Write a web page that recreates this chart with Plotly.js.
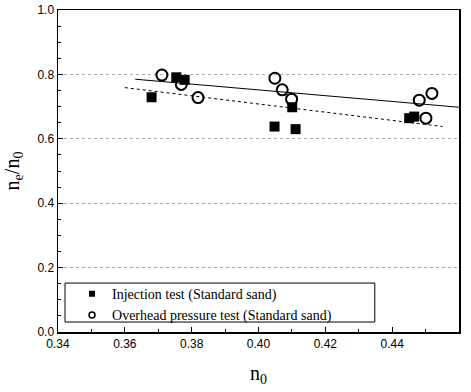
<!DOCTYPE html>
<html><head><meta charset="utf-8">
<script src="https://cdn.plot.ly/plotly-3.0.1.min.js"></script>
<style>body{margin:0;background:#fff}#c{width:471px;height:392px}</style>
</head><body><div id="c"></div>
<script>
const injX = [0.368, 0.3754, 0.3779, 0.4048, 0.4101, 0.4111, 0.4451, 0.4466];
const injY = [0.729, 0.791, 0.783, 0.638, 0.698, 0.630, 0.664, 0.669];
const ovhX = [0.3711, 0.3769, 0.3819, 0.4049, 0.4071, 0.4099, 0.4481, 0.4519, 0.4501];
const ovhY = [0.798, 0.769, 0.728, 0.788, 0.752, 0.723, 0.720, 0.741, 0.664];
const fitSolidX = [0.3631, 0.46];
const fitSolidY = [0.785, 0.698];
const fitDashX = [0.360, 0.4551];
const fitDashY = [0.759, 0.638];
const xTicks = [0.34, 0.36, 0.38, 0.40, 0.42, 0.44, 0.46];
const xTickText = ["0.34", "0.36", "0.38", "0.40", "0.42", "0.44", "0.46"];
const yTicks = [0.0, 0.2, 0.4, 0.6, 0.8, 1.0];
const yTickText = ["0.0", "0.2", "0.4", "0.6", "0.8", "1.0"];
const seriesNames = ['Injection test (Standard sand)', 'Overhead pressure test (Standard sand)'];

const data = [
  {x: fitSolidX, y: fitSolidY, mode: 'lines', line: {color: '#000', width: 1}, showlegend: false, hoverinfo: 'skip'},
  {x: fitDashX, y: fitDashY, mode: 'lines', line: {color: '#000', width: 1, dash: 'dot'}, showlegend: false, hoverinfo: 'skip'},
  {x: injX, y: injY, mode: 'markers', name: seriesNames[0], showlegend: false,
   marker: {symbol: 'square', size: 10, color: '#000'}},
  {x: ovhX, y: ovhY, mode: 'markers', name: seriesNames[1], showlegend: false,
   marker: {symbol: 'circle-open', size: 11, color: '#000', line: {width: 2, color: '#000'}}},
  {x: [null], y: [null], mode: 'markers', name: seriesNames[0],
   marker: {symbol: 'square', size: 6, color: '#000'}},
  {x: [null], y: [null], mode: 'markers', name: seriesNames[1],
   marker: {symbol: 'circle-open', size: 6, color: '#000', line: {width: 1.5, color: '#000'}}}
];
const layout = {
  width: 471, height: 392,
  margin: {l: 58, r: 12, t: 10, b: 60},
  paper_bgcolor: '#fff', plot_bgcolor: '#fff',
  font: {family: 'Liberation Sans, Arial, sans-serif', size: 12, color: '#000'},
  xaxis: {range: [0.34, 0.46], tickvals: xTicks, ticktext: xTickText,
    ticks: 'inside', ticklen: 5, tickcolor: '#000', showline: true, linecolor: '#000', linewidth: 1.5, mirror: true,
    showgrid: false, zeroline: false,
    minor: {dtick: 0.01, ticks: 'inside', ticklen: 3, tickcolor: '#000'},
    title: {text: 'n<sub>0</sub>', font: {family: 'Liberation Serif, Times New Roman, serif', size: 20}, standoff: 16}},
  yaxis: {range: [0, 1.0], tickvals: yTicks, ticktext: yTickText,
    ticks: 'inside', ticklen: 5, tickcolor: '#000', showline: true, linecolor: '#000', linewidth: 1.5, mirror: true,
    showgrid: true, gridcolor: '#aaa', griddash: 'dot', gridwidth: 1, zeroline: false,
    minor: {dtick: 0.05, ticks: 'inside', ticklen: 3, tickcolor: '#000', showgrid: false},
    title: {text: 'n<sub>e</sub>/n<sub>0</sub>', font: {family: 'Liberation Serif, Times New Roman, serif', size: 20}, standoff: 12}},
  legend: {x: 0.035, y: 0.167, xanchor: 'left', yanchor: 'top', borderwidth: 0, bgcolor: 'rgba(0,0,0,0)',
    font: {family: 'Liberation Serif, Times New Roman, serif', size: 14}, tracegroupgap: 0},
  shapes: [{type: 'rect', xref: 'paper', yref: 'paper', x0: 0.0175, x1: 0.79, y0: 0.031, y1: 0.152,
    line: {color: '#000', width: 1}, fillcolor: '#fff', layer: 'below'}],
  showlegend: true
};
Plotly.newPlot('c', data, layout, {staticPlot: true});
</script></body></html>
